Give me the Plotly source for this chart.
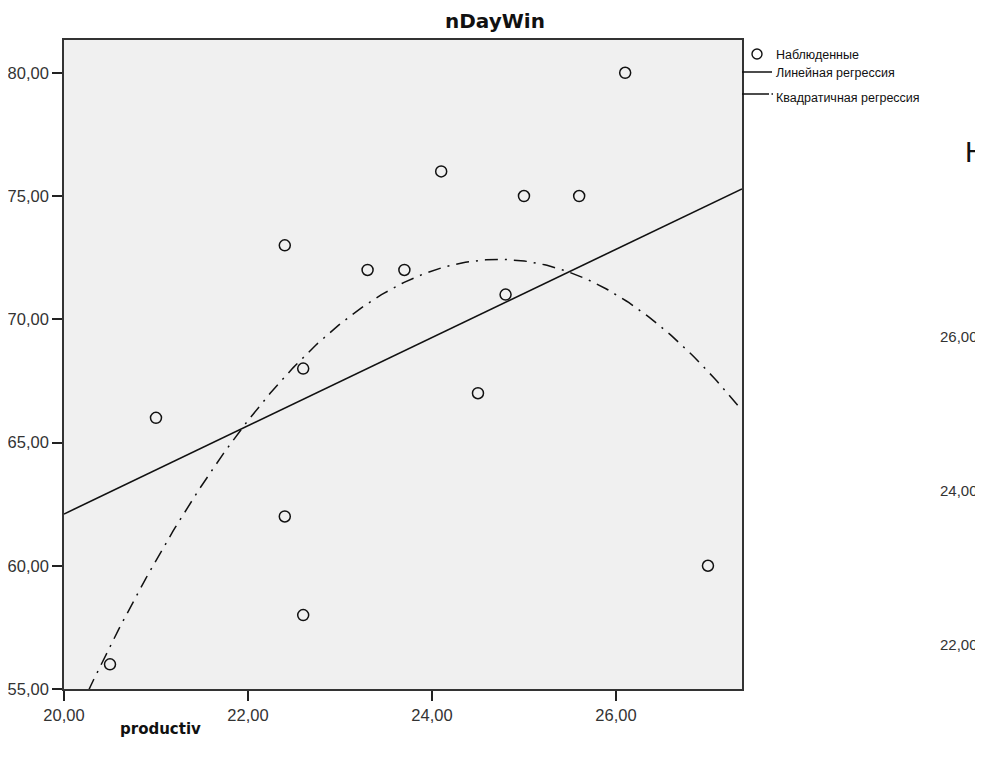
import numpy as np
import plotly.graph_objects as go

# Data
productiv = [20.5, 21.0, 22.4, 22.4, 22.6, 22.6, 23.3, 23.7, 24.1, 24.5, 24.8, 25.0, 25.6, 26.1, 27.0]
nDayWin = [56, 66, 73, 62, 68, 58, 72, 72, 76, 67, 71, 75, 75, 80, 60]
x_ticks = [20, 22, 24, 26]
x_ticklabels = ["20,00", "22,00", "24,00", "26,00"]
y_ticks = [55, 60, 65, 70, 75, 80]
y_ticklabels = ["55,00", "60,00", "65,00", "70,00", "75,00", "80,00"]
legend_labels = ["Наблюденные", "Линейная регрессия", "Квадратичная регрессия"]
side_labels = ["26,00", "24,00", "22,00"]

X_RANGE = [20.0, 27.37]
Y_RANGE = [55.0, 81.33]

xs = np.array(productiv, dtype=float)
ys = np.array(nDayWin, dtype=float)
lin = np.polyfit(xs, ys, 1)
quad = np.polyfit(xs, ys, 2)
xline = np.linspace(X_RANGE[0], X_RANGE[1], 300)

FONT = "Liberation Sans, Arial, sans-serif"
BOLD = "DejaVu Sans, Verdana, sans-serif"

fig = go.Figure()
fig.add_trace(go.Scatter(x=xline, y=np.polyval(quad, xline), mode="lines",
                         line=dict(color="#111111", width=1.5, dash="13px,7px,2px,7px"),
                         showlegend=False, hoverinfo="skip"))
fig.add_trace(go.Scatter(x=xline, y=np.polyval(lin, xline), mode="lines",
                         line=dict(color="#111111", width=1.6),
                         showlegend=False, hoverinfo="skip"))
fig.add_trace(go.Scatter(x=productiv, y=nDayWin, mode="markers",
                         marker=dict(symbol="circle-open", size=11, color="#111111",
                                     line=dict(width=1.5, color="#111111")),
                         showlegend=False, cliponaxis=False))

# page has an 8px body margin: plot area in page pixels is x 64..742, y 40..689
OFF = 8
W, H = 983 - OFF, 760 - OFF
L, T = 64 - OFF, 40 - OFF
R = W + OFF - 742
B = H + OFF - 689
pw = 742 - 64
ph = 689 - 40

def px(x):
    return (x - 64) / pw

def py(y):
    return (689 - y) / ph

annotations = []
# Title
annotations.append(dict(text="<b>nDayWin</b>", x=px(495), y=py(21), xref="paper", yref="paper",
                        showarrow=False, font=dict(size=20, color="#111111", family=BOLD),
                        xanchor="center", yanchor="middle"))
# X axis title
annotations.append(dict(text="<b>productiv</b>", x=px(160), y=py(729), xref="paper", yref="paper",
                        showarrow=False, font=dict(size=15, color="#111111", family=BOLD),
                        xanchor="center", yanchor="middle"))
# Legend text
for lab, yy in zip(legend_labels, [55, 73, 98]):
    annotations.append(dict(text=lab, x=px(774), y=py(yy), xref="paper", yref="paper",
                            showarrow=False, font=dict(size=12.5, color="#111111", family=FONT),
                            xanchor="left", yanchor="middle"))
# Fragments of neighbouring chart at the right edge
annotations.append(dict(text="Н", x=px(963), y=py(152), xref="paper", yref="paper",
                        showarrow=False, font=dict(size=29, color="#111111", family=FONT),
                        xanchor="left", yanchor="middle"))
for lab, yy in zip(side_labels, [336, 490, 644]):
    annotations.append(dict(text=lab, x=px(980), y=py(yy), xref="paper", yref="paper",
                            showarrow=False, font=dict(size=15, color="#333333", family=FONT),
                            xanchor="right", yanchor="middle"))

shapes = []
# Legend marker
shapes.append(dict(type="circle", xref="paper", yref="paper", xsizemode="pixel", ysizemode="pixel",
                   xanchor=px(757), yanchor=py(54), x0=-5, x1=5, y0=-5, y1=5,
                   line=dict(color="#111111", width=1.4)))
# Legend lines
shapes.append(dict(type="line", xref="paper", yref="paper", x0=px(742), x1=px(772),
                   y0=py(72), y1=py(72), line=dict(color="#111111", width=1.5)))
shapes.append(dict(type="line", xref="paper", yref="paper", x0=px(742), x1=px(769),
                   y0=py(94), y1=py(94), line=dict(color="#111111", width=1.5)))
shapes.append(dict(type="line", xref="paper", yref="paper", x0=px(771.5), x1=px(773),
                   y0=py(94), y1=py(94), line=dict(color="#111111", width=1.5)))
# Side tick marks
for yy in [336, 490, 644]:
    shapes.append(dict(type="line", xref="paper", yref="paper", x0=px(980), x1=px(984),
                       y0=py(yy), y1=py(yy), line=dict(color="#333333", width=1)))

fig.update_layout(
    width=W, height=H,
    margin=dict(l=L, r=R, t=T, b=B, autoexpand=False),
    paper_bgcolor="white",
    plot_bgcolor="#F0F0F0",
    showlegend=False,
    font=dict(family=FONT, color="#333333"),
    annotations=annotations,
    shapes=shapes,
)
fig.update_xaxes(range=X_RANGE, tickvals=x_ticks, ticktext=x_ticklabels,
                 showgrid=False, zeroline=False, showline=True, mirror=True,
                 linecolor="#333333", linewidth=1.6, ticks="outside", ticklen=10,
                 tickcolor="#222222", tickwidth=1.6, tickfont=dict(size=16.5, color="#333333"))
fig.update_yaxes(range=Y_RANGE, tickvals=y_ticks, ticktext=y_ticklabels,
                 showgrid=False, zeroline=False, showline=True, mirror=True,
                 linecolor="#333333", linewidth=1.6, ticks="outside", ticklen=10,
                 tickcolor="#222222", tickwidth=1.6, tickfont=dict(size=16.5, color="#333333"))

fig.write_html("out.html")
